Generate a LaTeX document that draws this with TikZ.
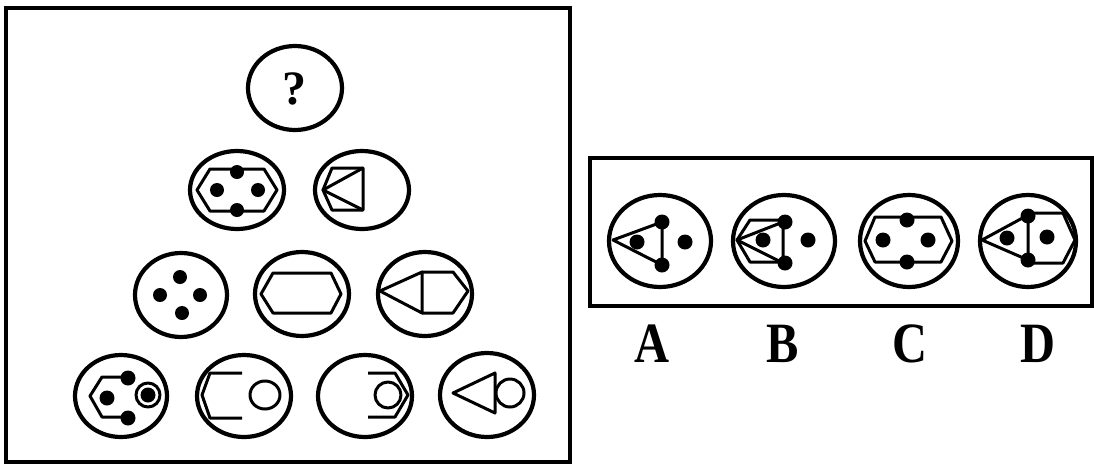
\documentclass[tikz,border=0pt]{standalone}
\usepackage{fontspec}
\newfontfamily\labelfont{Liberation Serif}
\begin{document}
\begin{tikzpicture}[x=1pt,y=-1pt,
    ring/.style={line width=4.2pt},
    part/.style={line width=3pt,line join=round},
    spot/.style={fill=black},
    letter/.style={font=\labelfont\bfseries\fontsize{57}{60}\selectfont,xscale=0.85,inner sep=0pt}]
  \useasboundingbox (0,0) rectangle (1094,464);
  % frames
  \draw[line width=3.2pt] (6,8) rectangle (570,462);
  \draw[line width=3.2pt] (590,158) rectangle (1092,306);
  % top
  \draw[ring] (295,88) ellipse (47 and 42);
  \node[font=\labelfont\bfseries\fontsize{48}{50}\selectfont,inner sep=0pt] (q) at (294,89) {?};
  % row 2
  \begin{scope}[shift={(237,190)}]
    \draw[ring] (0,0) ellipse (47 and 39);
    \draw[part] (-40,0) -- (-27,-21) -- (27,-21) -- (40,0) -- (27,21) -- (-27,21) -- cycle;
    \foreach \p in {(0,-18),(0,20),(-20,0),(21,0)} \fill[spot] \p circle (7);
  \end{scope}
  \begin{scope}[shift={(362,190)}]
    \draw[ring] (0,0) ellipse (47 and 39);
    \draw[part] (-39,0) -- (-30,-22) -- (1,-22) -- (1,20) -- (-30,20) -- cycle;
    \draw[part] (1,-22) -- (-39,0) -- (1,20);
  \end{scope}
  % row 3
  \begin{scope}[shift={(181,295)}]
    \draw[ring] (0,0) ellipse (46 and 42);
    \foreach \p in {(-1,-18),(-21,0),(19,0),(1,18)} \fill[spot] \p circle (7);
  \end{scope}
  \begin{scope}[shift={(302,294)}]
    \draw[ring] (0,0) ellipse (47 and 42);
    \draw[part] (-41,0) -- (-29,-21) -- (29,-21) -- (39,0) -- (29,19) -- (-29,19) -- cycle;
  \end{scope}
  \begin{scope}[shift={(425,294)}]
    \draw[ring] (0,0) ellipse (47 and 42);
    \draw[part] (-45,-3) -- (-3,-22) -- (-3,19) -- cycle;
    \draw[part] (-3,-22) -- (28,-22) -- (43,-3) -- (28,19) -- (-3,19);
  \end{scope}
  % row 4
  \begin{scope}[shift={(121,396)}]
    \draw[ring] (0,0) ellipse (46 and 41);
    \draw[part] (7,-19) -- (-19,-19) -- (-31,0) -- (-19,21) -- (7,21);
    \foreach \p in {(7,-18),(-14,2),(7,22)} \fill[spot] \p circle (7.5);
    \draw[part] (27,-1) circle (12);
    \fill[spot] (27,-1) circle (7.5);
  \end{scope}
  \begin{scope}[shift={(244,396)}]
    \draw[ring] (0,0) ellipse (47 and 41);
    \draw[part] (-2,-23) -- (-34,-23) -- (-42,-1) -- (-34,22) -- (-2,22);
    \draw[part] (21,-1) ellipse (15 and 14);
  \end{scope}
  \begin{scope}[shift={(365,396)}]
    \draw[ring] (0,0) ellipse (47 and 41);
    \draw[part] (3,-23) -- (30,-23) -- (43,-1) -- (30,21) -- (3,21);
    \draw[part] (23,-1) circle (13);
  \end{scope}
  \begin{scope}[shift={(487,395)}]
    \draw[ring] (0,0) ellipse (47 and 42);
    \draw[part] (-34,-2) -- (8,-22) -- (8,18) -- cycle;
    \draw[part] (23,-2) circle (14);
  \end{scope}
  % options
  \begin{scope}[shift={(660,241)}]
    \draw[ring] (0,0) ellipse (51 and 46);
    \draw[part] (-47,-1) -- (2,-19) -- (2,24) -- cycle;
    \foreach \p in {(2,-19),(-23,1),(2,24),(25,1)} \fill[spot] \p circle (7.5);
  \end{scope}
  \begin{scope}[shift={(784,241)}]
    \draw[ring] (0,0) ellipse (51 and 46);
    \draw[part] (-47,-1) -- (-1,-19) -- (-1,22) -- cycle;
    \draw[part] (-1,-21) -- (-34,-21) -- (-47,-1) -- (-34,21) -- (-1,21);
    \foreach \p in {(1,-19),(-21,-1),(1,22),(24,-1)} \fill[spot] \p circle (7.5);
  \end{scope}
  \begin{scope}[shift={(909,241)}]
    \draw[ring] (0,0) ellipse (49 and 46);
    \draw[part] (-44,0) -- (-34,-24) -- (32,-24) -- (43,0) -- (32,21) -- (-34,21) -- cycle;
    \foreach \p in {(-2,-21),(-2,21),(-26,-1),(19,-1)} \fill[spot] \p circle (7.5);
  \end{scope}
  \begin{scope}[shift={(1028,241)}]
    \draw[ring] (0,0) ellipse (48 and 46);
    \draw[part] (-46,-1) -- (0,-26) -- (0,19) -- cycle;
    \draw[part] (0,-28) -- (35,-28) -- (47,-1) -- (35,22) -- (0,22);
    \foreach \p in {(0,-25),(-21,-3),(0,19),(19,-4)} \fill[spot] \p circle (7.5);
  \end{scope}
  % labels
  \node[letter] (la) at (652,344) {A};
  \node[letter] (lb) at (783,344) {B};
  \node[letter] (lc) at (910,344) {C};
  \node[letter] (ld) at (1038,344) {D};
\end{tikzpicture}
\end{document}
